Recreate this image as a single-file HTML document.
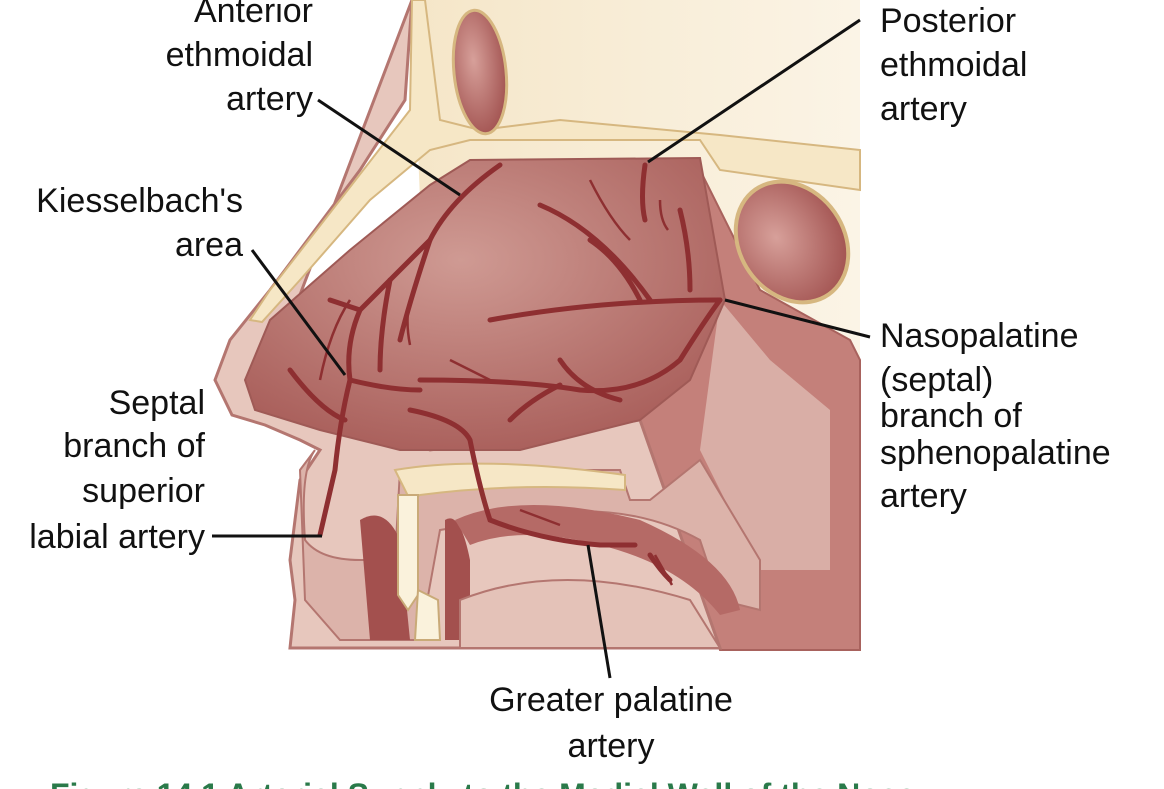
<!DOCTYPE html>
<html><head><meta charset="utf-8"><style>
body{margin:0;background:#fff;width:1164px;height:789px;overflow:hidden}
svg{display:block}
text{font-family:"Liberation Sans",Arial,sans-serif;font-size:34px;fill:#111}
</style></head><body>
<svg width="1164" height="789" viewBox="0 0 1164 789">
<defs>
<radialGradient id="sep" cx="0.45" cy="0.35" r="0.7"><stop offset="0" stop-color="#cf9a93"/><stop offset="1" stop-color="#a85d59"/></radialGradient>
<radialGradient id="sin" cx="0.4" cy="0.4" r="0.7"><stop offset="0" stop-color="#d7a09a"/><stop offset="1" stop-color="#9e4d4b"/></radialGradient>
<linearGradient id="bg" x1="0" y1="0" x2="1" y2="0"><stop offset="0" stop-color="#f5e6c8"/><stop offset="1" stop-color="#fbf4e6"/></linearGradient>
</defs>
<path d="M412 0 L860 0 L860 360 L720 300 L700 160 L470 160 L420 200 Z" fill="url(#bg)"/>
<path d="M700 170 L760 290 L850 340 L860 360 L860 650 L720 650 L640 420 Z" fill="#c4807a" stroke="#a8625d" stroke-width="2"/>
<path d="M720 300 L770 360 L830 410 L830 570 L760 570 L700 450 Z" fill="#d9aea6"/>
<path d="M412 0 L405 100 L360 170 L270 290 L230 340 L215 380 L232 415 L265 425 L300 440 L320 450 L300 480 L290 560 L295 600 L290 648 L720 648 L640 420 L430 450 L330 410 L260 400 Z" fill="#e7c7bd" stroke="#b47670" stroke-width="3"/>
<path d="M245 380 L270 320 L350 250 L430 185 L470 160 L700 158 L725 300 L690 380 L640 420 L520 450 L400 450 L320 430 L255 410 Z" fill="url(#sep)" stroke="#9f5a56" stroke-width="2"/>
<path d="M412 0 L410 110 L340 200 L270 290 L250 320 L262 322 L300 280 L370 200 L430 150 L470 140 L700 140 L720 170 L860 190 L860 150 L720 135 L560 120 L480 130 L440 120 L425 0 Z" fill="#f6e7c6" stroke="#d6b780" stroke-width="2"/>
<ellipse cx="480" cy="72" rx="26" ry="62" fill="url(#sin)" stroke="#d6b780" stroke-width="3" transform="rotate(-6 480 72)"/>
<ellipse cx="792" cy="242" rx="52" ry="64" fill="url(#sin)" stroke="#d6b780" stroke-width="4" transform="rotate(-35 792 242)"/>
<path d="M315 450 Q300 470 305 540 Q320 560 360 560 L395 560 L400 470 L620 470 L630 500 L650 500 L700 460 L760 560 L760 610 L720 600 L700 540 Q620 495 500 520 L440 530 L420 640 L340 640 L305 600 L300 470 Z" fill="#dcb3aa" stroke="#b47670" stroke-width="2"/>
<path d="M395 470 Q480 455 625 475 L625 490 Q520 482 420 495 L410 500 Z" fill="#f6e7c6" stroke="#d6b780" stroke-width="2"/>
<path d="M360 520 Q385 505 400 540 L410 640 L370 640 Z" fill="#a3504e"/>
<path d="M445 520 Q460 510 470 560 L470 640 L445 640 Z" fill="#a3504e"/>
<path d="M398 495 L418 495 L418 595 L408 610 L398 595 Z" fill="#faf2dc" stroke="#c9aa78" stroke-width="2"/>
<path d="M418 590 L438 600 L440 640 L415 640 Z" fill="#faf2dc" stroke="#c9aa78" stroke-width="2"/>
<path d="M455 520 Q520 490 640 520 Q730 560 740 610 L720 615 Q680 565 600 545 Q520 525 470 545 Z" fill="#b56a66"/>
<path d="M460 600 Q560 560 690 600 L720 648 L460 648 Z" fill="#e4c2b8" stroke="#b47670" stroke-width="2"/>
<g fill="none" stroke="#8e2f31" stroke-width="5" stroke-linecap="round">
<path d="M500 165 Q450 200 430 240 Q390 280 360 310 Q345 345 350 380 Q340 420 335 470 L320 535"/>
<path d="M430 240 Q410 300 400 340"/><path d="M390 280 Q380 330 380 370"/><path d="M360 310 L330 300"/>
<path d="M290 370 Q320 410 345 420"/><path d="M350 380 Q390 390 420 390"/>
<path d="M420 380 Q520 380 580 390 Q640 395 680 360 Q705 320 720 300"/>
<path d="M490 320 Q600 300 720 300"/><path d="M640 300 Q620 260 590 240"/><path d="M690 290 Q690 250 680 210"/>
<path d="M540 205 Q600 230 650 300"/><path d="M560 360 Q580 390 620 400"/>
<path d="M410 410 Q460 420 470 440 Q480 490 490 520 Q540 540 600 545 L635 545"/>
<path d="M645 165 Q640 200 645 220"/><path d="M650 555 Q660 570 670 580"/>
<path d="M510 420 Q530 400 560 385"/>
</g>
<g fill="none" stroke="#8e2f31" stroke-width="2.5">
<path d="M350 300 Q330 330 320 380"/><path d="M410 300 Q405 320 410 345"/><path d="M590 180 Q610 220 630 240"/>
<path d="M660 200 Q660 220 668 230"/><path d="M450 360 Q470 370 490 380"/><path d="M520 510 L560 525"/><path d="M655 555 L672 585"/>
</g>
<g stroke="#111" stroke-width="3" fill="none">
<line x1="318" y1="100" x2="460" y2="195"/>
<line x1="860" y1="20" x2="648" y2="162"/>
<line x1="252" y1="250" x2="345" y2="375"/>
<line x1="725" y1="300" x2="870" y2="337"/>
<line x1="212" y1="536" x2="322" y2="536"/>
<line x1="588" y1="545" x2="610" y2="678"/>
</g>
<text x="313" y="22" text-anchor="end">Anterior</text>
<text x="313" y="66" text-anchor="end">ethmoidal</text>
<text x="313" y="110" text-anchor="end">artery</text>
<text x="880" y="32">Posterior</text>
<text x="880" y="76">ethmoidal</text>
<text x="880" y="120">artery</text>
<text x="243" y="212" text-anchor="end">Kiesselbach's</text>
<text x="243" y="256" text-anchor="end">area</text>
<text x="880" y="347">Nasopalatine</text>
<text x="880" y="391">(septal)</text>
<text x="880" y="427">branch of</text>
<text x="880" y="464">sphenopalatine</text>
<text x="880" y="507">artery</text>
<text x="205" y="414" text-anchor="end">Septal</text>
<text x="205" y="457" text-anchor="end">branch of</text>
<text x="205" y="502" text-anchor="end">superior</text>
<text x="205" y="548" text-anchor="end">labial artery</text>
<text x="611" y="711" text-anchor="middle">Greater palatine</text>
<text x="611" y="757" text-anchor="middle">artery</text>
<text x="50" y="806" style="font-weight:bold;font-size:32px;fill:#2a7a4a">Figure 14.1 Arterial Supply to the Medial Wall of the Nose</text>
</svg>
</body></html>
